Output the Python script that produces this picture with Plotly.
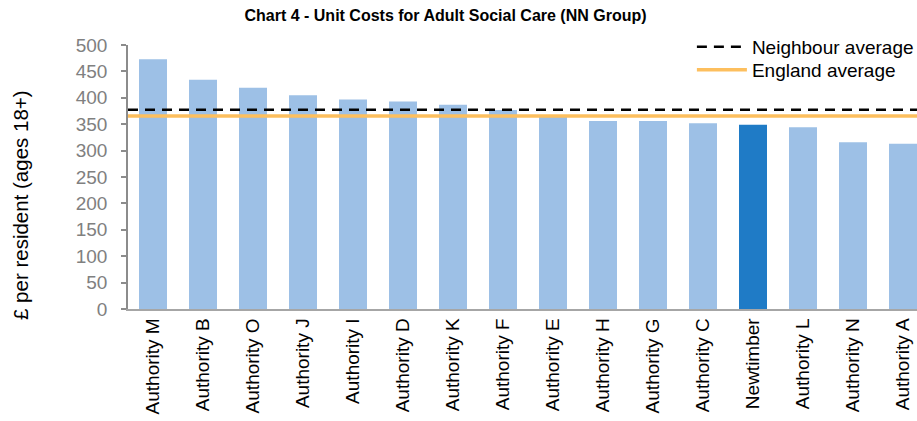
import plotly.graph_objects as go

categories = ["Authority M", "Authority B", "Authority O", "Authority J", "Authority I",
              "Authority D", "Authority K", "Authority F", "Authority E", "Authority H",
              "Authority G", "Authority C", "Newtimber", "Authority L", "Authority N",
              "Authority A"]
unit_costs = [473, 434, 419, 405, 397, 393, 387, 377, 367, 356, 356, 352, 349, 344, 316, 313]
neighbour_average = 377.5
england_average = 365.5
highlight = "Newtimber"
y_ticks = [0, 50, 100, 150, 200, 250, 300, 350, 400, 450, 500]

FONT = "Liberation Sans, Arial, sans-serif"
LIGHT = "#9DC0E6"
DARK = "#1F7BC6"
ORANGE = "#FDBF5E"

positions = list(range(len(categories)))
colors = [DARK if c == highlight else LIGHT for c in categories]

fig = go.Figure()
fig.add_trace(go.Bar(
    x=positions, y=unit_costs, marker=dict(color=colors, line=dict(width=0)),
    showlegend=False, hoverinfo="y",
))
x_ends = [positions[0] - 0.5, positions[-1] + 0.5]
fig.add_trace(go.Scatter(
    x=x_ends, y=[neighbour_average] * 2, mode="lines",
    line=dict(color="black", width=2.5, dash="10px,7px"),
    name="Neighbour average", legend="legend",
))
fig.add_trace(go.Scatter(
    x=x_ends, y=[england_average] * 2, mode="lines",
    line=dict(color=ORANGE, width=3.5),
    name="England average", legend="legend2",
))

legend_common = dict(xanchor="left", yanchor="middle", bgcolor="rgba(0,0,0,0)",
                     font=dict(size=19, color="black", family=FONT), itemwidth=50)

fig.update_layout(
    width=917, height=421,
    margin=dict(l=128, r=0, t=45, b=112, autoexpand=False),
    paper_bgcolor="white", plot_bgcolor="white",
    font=dict(family=FONT, size=19, color="black"),
    bargap=0.44,
    title=dict(text="<b>Chart 4 - Unit Costs for Adult Social Care (NN Group)</b>",
               x=(445.5) / 917, xanchor="center", y=1 - 15 / 421, yanchor="middle",
               font=dict(size=16, color="black", family=FONT)),
    legend=dict(x=0.7147, y=(309 - 47) / 264, **legend_common),
    legend2=dict(x=0.7147, y=(309 - 70) / 264, **legend_common),
    xaxis=dict(
        range=[-0.5, 15.28], tickmode="array", tickvals=positions, ticktext=categories,
        tickangle=-90, showgrid=False, zeroline=False, showline=True,
        linecolor="#A6A6A6", linewidth=1.5, ticks="", ticklabelstandoff=0,
        tickfont=dict(size=19, color="black"), automargin=False,
    ),
    yaxis=dict(
        range=[0, 500], tickmode="array", tickvals=y_ticks, showgrid=False,
        zeroline=False, showline=True, linecolor="#8C8C8C", linewidth=1.5,
        ticks="outside", ticklen=5, tickcolor="#8C8C8C", tickwidth=1.5,
        tickfont=dict(size=19, color="#808080"), ticklabelstandoff=10,
        automargin=False,
    ),
    annotations=[dict(
        text="£ per resident (ages 18+)", textangle=-90, showarrow=False,
        xref="paper", yref="paper", x=(20 - 128) / 789, y=(309 - 205) / 264,
        xanchor="center", yanchor="middle", font=dict(size=20.5, color="black"),
    )],
)

fig.write_html("out.html", config={"displayModeBar": False},
               post_script="document.body.style.margin='0';document.body.style.padding='0';")
